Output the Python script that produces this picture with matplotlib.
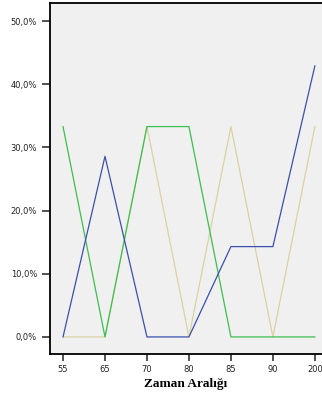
import matplotlib
matplotlib.use("Agg")
import matplotlib.pyplot as plt
from matplotlib.ticker import FuncFormatter

categories = ["55", "65", "70", "80", "85", "90", "200"]
blue_vals = [0.0, 28.6, 0.0, 0.0, 14.3, 14.3, 42.9]
green_vals = [33.3, 0.0, 33.3, 33.3, 0.0, 0.0, 0.0]
tan_vals = [0.0, 0.0, 33.3, 0.0, 33.3, 0.0, 33.3]

fig = plt.figure(figsize=(3.22, 4.03), dpi=100)
ax = fig.add_axes([0.154, 0.1216, 0.846, 0.870])
ax.set_facecolor("#f0f0f0")

x = list(range(len(categories)))
ax.plot(x, tan_vals, color="#d8d4a2", lw=0.9)
ax.plot(x, green_vals, color="#3cbf4e", lw=0.9)
ax.plot(x, blue_vals, color="#3c4fae", lw=0.9)

ax.set_xlim(-0.32, 6.17)
ax.set_ylim(-2.7, 52.8)
ax.set_xticks(x)
ax.set_xticklabels(categories)
ax.set_yticks([0, 10, 20, 30, 40, 50])
ax.yaxis.set_major_formatter(FuncFormatter(lambda v, p: ("%.1f%%" % v).replace(".", ",")))

for s in ["left", "bottom", "top"]:
    ax.spines[s].set_linewidth(1.3)
ax.spines["right"].set_visible(False)
ax.tick_params(axis="both", labelsize=6, colors="#222222", length=6, width=1.1, pad=3)
ax.tick_params(axis="x", length=5)

ax.set_xlabel("Zaman Aralığı", family="Liberation Serif", fontweight="bold", fontsize=9.5, labelpad=3)

fig.savefig("out.png", dpi=100)
